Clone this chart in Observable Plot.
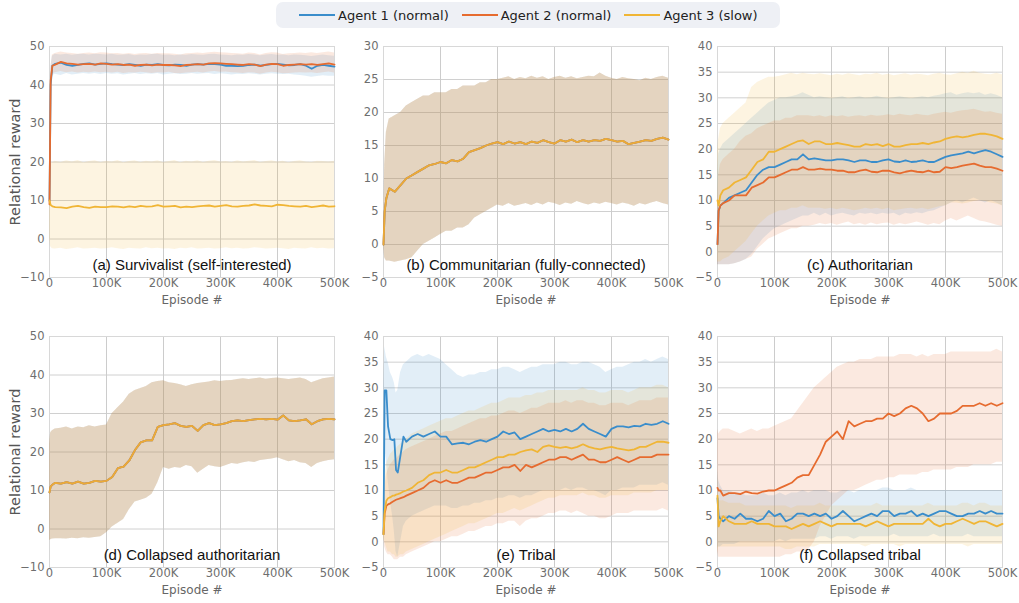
<!DOCTYPE html>
<html><head><meta charset="utf-8">
<script src="https://cdn.jsdelivr.net/npm/d3@7"></script>
<script src="https://cdn.jsdelivr.net/npm/@observablehq/plot@0.6"></script>
<style>
body{margin:0;background:#fff;}
#root{position:relative;width:1019px;height:603px;overflow:hidden;font-family:"DejaVu Sans",Verdana,sans-serif;}
.panel{position:absolute;}
.panel svg{overflow:visible;}
#legend{position:absolute;left:276px;top:2px;width:504px;height:26px;background:#eef0f5;border-radius:7px;display:flex;align-items:center;box-sizing:border-box;padding-left:23px;font-size:13px;color:#222;}
.item{display:flex;align-items:center;margin-right:13px;white-space:nowrap;}
.sw{width:36px;height:2px;margin-right:3px;}
</style></head>
<body><div id="root"><div id="legend"></div></div>
<script>
// ---------- categories / labels ----------
const AGENTS = ["Agent 1 (normal)", "Agent 2 (normal)", "Agent 3 (slow)"];
const COLORS = ["#3a8dcb", "#e66b2f", "#f0b535"];
const X_TICKS = [0, 100, 200, 300, 400, 500];
const TITLES = ["(a) Survivalist (self-interested)", "(b) Communitarian (fully-connected)", "(c) Authoritarian",
  "(d) Collapsed authoritarian", "(e) Tribal", "(f) Collapsed tribal"];

// episode grid (thousands)
const X = [0,2,5,10,20,30,40,50,60,70,
  80,90,100,110,120,130,140,150,160,170,
  180,190,200,210,220,230,240,250,260,270,
  280,290,300,310,320,330,340,350,360,370,
  380,390,400,410,420,430,440,450,460,470,
  480,490,500];
const XE = [0,2,5,8,12,16,19,22,25,30,
  35,40,50,60,70,80,90,100,110,120,
  130,140,150,160,170,180,190,200,210,220,
  230,240,250,260,270,280,290,300,310,320,
  330,340,350,360,370,380,390,400,410,420,
  430,440,450,460,470,480,490,500];

// ---------- (a) Survivalist ----------
const A1 = [10,40,45,45.5,45.8,45.2,45.0,45.2,45.5,45.6,
  45.3,45.5,45.6,45.4,45.3,45.2,45.4,45.2,45.0,45.3,
  45.2,45.4,45.2,45.1,45.3,45.2,45.0,45.3,45.4,45.3,
  45.5,45.4,45.3,45.0,45.0,44.9,45.0,45.2,45.3,45.0,
  45.2,45.4,45.5,45.3,45.1,45.2,45.4,45.0,44.2,45.0,
  45.2,45.0,44.8];
const A2 = [9,41,45,45.3,46.0,45.6,45.5,45.3,45.4,45.5,
  45.3,45.6,45.5,45.3,45.4,45.2,45.3,45.0,45.2,45.3,
  45.1,45.3,45.2,45.2,45.1,44.9,45.2,45.3,45.4,45.3,
  45.6,45.7,45.6,45.5,45.4,45.3,45.2,45.4,45.3,44.9,
  45.3,45.5,45.4,45.0,45.2,45.3,45.4,45.3,45.4,45.2,
  45.4,45.6,45.3];
const A3 = [10,8.8,8.5,8.3,8.2,8.0,8.4,8.6,8.3,8.1,
  8.4,8.3,8.3,8.5,8.4,8.2,8.5,8.3,8.6,8.4,
  8.5,8.8,8.4,8.5,8.6,8.2,8.4,8.3,8.5,8.6,
  8.7,8.4,8.6,8.8,8.5,8.4,8.6,8.7,9.0,8.7,
  8.6,8.5,8.9,8.8,8.6,8.5,8.4,8.6,8.3,8.5,
  8.7,8.4,8.5];
const A1_LO = [8,38,42.5,42.8,42.5,43.0,42.6,42.8,43.0,42.8,
  43.0,42.7,43.0,42.8,42.9,42.6,42.8,43.0,42.7,42.9,
  42.8,43.0,42.6,42.8,42.9,42.7,42.8,43.0,42.8,42.9,
  43.0,42.7,42.9,42.8,42.6,42.8,42.7,42.9,42.8,42.6,
  42.8,42.9,42.8,42.7,42.8,42.6,42.5,42.3,42.0,42.2,
  42.4,42.3,42.3];
const A1_HI = [12,44,47.5,48.0,47.8,48.0,47.7,47.9,48.0,47.8,
  48.0,47.9,47.8,48.0,47.7,47.8,47.9,47.6,47.8,47.7,
  47.9,48.0,47.7,47.8,47.6,47.8,47.7,47.9,47.8,47.7,
  47.9,48.0,47.8,47.7,47.6,47.8,47.7,47.9,47.8,47.6,
  47.8,47.9,47.7,47.8,47.6,47.8,47.7,47.6,47.4,47.6,
  47.8,47.6,47.5];
const A2_LO = [7,39,43.0,43.2,43.5,43.2,43.4,43.1,43.3,43.2,
  43.4,43.2,43.3,43.1,43.3,43.0,43.2,43.1,43.3,43.2,
  43.0,43.2,43.1,43.3,43.0,42.9,43.1,43.2,43.3,43.1,
  43.4,43.5,43.3,43.4,43.2,43.1,43.0,43.2,43.1,42.8,
  43.1,43.3,43.2,42.9,43.0,43.1,43.2,43.1,43.2,43.0,
  43.2,43.4,43.1];
const A2_HI = [11,44,47.8,48.2,48.6,48.3,48.2,48.0,48.2,48.3,
  48.1,48.4,48.3,48.1,48.2,48.0,48.2,47.9,48.1,48.2,
  48.0,48.2,48.1,48.1,48.0,47.8,48.1,48.2,48.3,48.2,
  48.4,48.5,48.4,48.3,48.2,48.1,48.0,48.3,48.2,47.8,
  48.2,48.4,48.3,47.9,48.1,48.2,48.3,48.2,48.4,48.2,
  48.4,48.6,48.3];
const A3_LO = [0,-2,-2.5,-2.6,-2.4,-2.7,-2.5,-2.3,-2.6,-2.5,
  -2.4,-2.6,-2.5,-2.3,-2.5,-2.7,-2.4,-2.5,-2.6,-2.3,
  -2.5,-2.4,-2.6,-2.5,-2.7,-2.4,-2.5,-2.3,-2.6,-2.5,
  -2.4,-2.6,-2.5,-2.3,-2.5,-2.4,-2.6,-2.5,-2.3,-2.4,
  -2.6,-2.5,-2.4,-2.5,-2.7,-2.4,-2.5,-2.6,-2.3,-2.5,
  -2.4,-2.6,-2.5];
const A3_HI = [20,19.5,19.8,20.2,19.9,20.3,20.0,20.4,19.8,20.1,
  20.3,19.9,20.2,20.0,20.4,19.8,20.1,20.3,19.9,20.2,
  20.0,20.3,19.9,20.1,20.4,19.8,20.2,20.0,20.3,19.9,
  20.2,20.4,20.0,20.1,19.9,20.3,20.0,20.2,20.4,19.9,
  20.1,20.3,20.0,20.2,19.8,20.1,20.3,20.0,19.9,20.2,
  20.1,20.0,20.2];

// ---------- (b) Communitarian (all agents overlap) ----------
const B_MEAN = [0,5,7,8.5,8.0,9.0,10.0,10.5,11.0,11.5,
  12.0,12.2,12.5,12.3,12.8,12.6,13.0,14.0,14.3,14.6,
  15.0,15.3,15.5,15.2,15.6,15.3,15.5,15.2,15.6,15.4,
  15.8,15.5,15.3,15.8,15.6,15.9,15.5,15.8,15.6,15.8,
  15.7,16.0,15.8,15.6,15.7,15.2,15.4,15.6,15.8,15.7,
  16.0,16.2,15.9];
const B_LO = [0,-2,-2.5,-2.5,-2.7,-2.5,-2.3,-2.0,-1.0,0.0,
  0.5,1.0,1.5,2.0,2.0,2.5,2.5,3.0,4.0,4.5,
  5.0,5.5,6.0,5.8,6.2,5.8,6.0,6.2,5.9,6.3,
  6.0,6.4,6.2,5.9,6.3,6.1,6.5,6.2,6.0,6.3,
  6.1,6.4,6.2,6.0,6.3,6.1,5.8,6.2,6.0,6.3,
  6.5,6.2,6.0];
const B_HI = [0,12,17,19,19.5,20,21,21.5,22,22.5,
  22.5,23,23,23,23.5,23.5,24,24,24,24.5,
  24.5,25,25,25.2,25.4,25.0,25.3,25.1,25.5,25.2,
  25.4,25.0,25.3,25.5,25.2,25.4,25.1,25.3,25.5,25.4,
  26.0,25.5,25.2,25.0,25.3,25.1,25.0,24.8,25.2,25.0,
  25.3,25.5,25.2];

// ---------- (c) Authoritarian ----------
const C1 = [1.5,8,9,9.5,10.5,11,11.5,12,13.5,15,
  16,16.5,16.5,17,17.5,18,18,19,18,18.2,
  18,17.8,17.8,18,18,17.8,17.5,17.8,17.8,17.5,
  17.5,17.8,18,17.6,17.5,17.8,17.5,17.6,17.8,17.5,
  17.5,18,18.5,18.8,19,19.2,19.5,19.2,19.5,19.8,
  19.5,19,18.5];
const C2 = [1.5,8,9,9.5,10,11,11,11,12.5,13,
  13.5,14.5,14.5,15,15.5,16,16,16.5,16,16,
  16.2,16,16,15.8,15.8,15.5,15.5,15.8,16,15.6,
  15.5,15.8,15.8,15.5,15.3,15.6,15.8,15.6,15.5,15.8,
  15.5,15.6,16.5,16.3,16.5,16.8,17,17.2,16.8,16.5,
  16.5,16.2,15.8];
const C3 = [10,9,11,12,12.5,13.5,14,14.5,16,17.5,
  18,19.5,19.5,20,20.5,21,21.5,21.7,21,21.5,
  21.5,21,21,21.2,21,20.8,20.5,20.5,21,20.8,
  21,20.6,21,20.5,20.5,20.8,21,21,21.2,21,
  21.3,21.5,22,22.3,22.5,22.3,22.5,22.8,23,23,
  22.8,22.5,22];
const C1_LO = [-2.5,-2.5,-2.5,-2.5,-2.5,-2.3,-2,-1.5,-0.5,1,
  2.5,3.5,4.5,5,5.5,6,6.5,7,7,7.5,
  7,7.5,7,7.3,7.5,7.2,7,7.5,7.3,7.5,
  7.2,7.5,7.3,7.5,7,7.5,7.3,7.6,7.4,7.8,
  8,8.5,9,9.5,10,9.5,10,10.5,10,9.5,
  10,9.5,9];
const C1_HI = [15,19,20,21,22,23,24,25,26,27,
  28,29,29.5,30,30,30.2,30.5,31,30.5,30,
  30.2,30,29.8,30,30.2,29.8,30,30.2,29.9,30,
  30.3,30,29.8,30,30.2,30,29.8,30,30.2,30,
  30.3,30.5,30.8,31,30.5,30.8,31,30.8,31,30.5,
  30.8,30.5,30];
const C2_LO = [-2.5,-2.5,-2.5,-2.5,-2.5,-2.3,-2,-1.5,-1,0.5,
  1.5,2.5,3,3.5,4,4.5,4.5,5,5,5.2,
  5.5,5.3,5.5,5.2,5.5,5.8,5.3,5.5,5.2,5.6,
  5.3,5.5,5.6,5.2,5.5,5.3,5.5,5.8,5.5,5.2,
  5.5,5.3,6,6.5,6,6.5,7,6.5,6,5.8,
  5.5,5.2,5];
const C2_HI = [10,15,17,18,19,20,21.5,22.5,23,24,
  24.5,25,25.5,25.5,26,26,26.5,26.5,26.5,26.3,
  26.5,26.2,26.5,26.3,26.5,26.2,26.4,26.5,26.3,26.6,
  26.4,26.5,26.7,26.5,26.8,26.6,26.5,26.8,26.6,26.5,
  26.8,27,27.2,27,27.3,27.5,27.6,27.8,27.5,27.2,
  27.3,27,26.8];
const C3_LO = [-2,-2,-2,-1.5,-1,0,1,2,3.5,5,
  6,7,7.5,8,8,8.5,8.5,9,8.5,8.5,
  8.5,8.3,8.5,8.2,8.5,8.3,8,8.2,8.5,8.3,
  8.5,8.2,8.5,8,8.2,8.4,8.5,8.3,8.5,8.2,
  8.5,8.8,9,9.5,9.5,9.3,9.5,9.8,10,9.8,
  9.5,9.3,9];
const C3_HI = [20,22,24,25,26,27,28,29,32,33,
  33.5,34,34,34.2,34.5,34.8,34.5,34.8,34.6,34.5,
  34.7,34.5,34.3,34.6,34.4,34.7,34.5,34.3,34.6,34.5,
  34.8,34.4,34.6,34.3,34.5,34.7,34.4,34.6,34.5,34.3,
  34.6,34.8,34.5,34.4,34.7,35,34.8,35.2,34.8,34.6,
  34.5,34.8,34.5];

// ---------- (d) Collapsed authoritarian (all agents overlap) ----------
const D_MEAN = [9.5,11,11.5,12,11.8,12.2,11.8,12.3,11.8,12,
  12.5,12.3,12.5,13.5,15.8,16.2,17.8,20.5,22.5,23,
  23,26.5,27,27.2,27.5,26.8,26.5,26.8,25.5,27,
  27.5,27,27.2,27.5,28,28.2,28,28.3,28.5,28.6,
  28.5,28.6,28.4,29.5,28.2,28,28.2,28.5,27.2,28,
  28.5,28.6,28.5];
const D_LO = [-3,-2.8,-2.6,-2.5,-2.5,-2.6,-2.4,-2.5,-2.3,-2.4,
  -2.2,-2,-1,0.5,1.5,2.5,5,7,7.5,8,
  9,12,16,15.5,16,15.8,16.5,16.2,14.5,15.5,
  16.5,16.2,16,16.5,17,16.8,17.2,17.5,17.3,17.8,
  18,18.2,18.5,18,17.5,17.8,17.2,17,16,17,
  17.5,17.8,18];
const D_HI = [22,25,25.5,26,26.2,26.5,26,26.5,26.3,26.8,
  26.5,26.8,27,30,31.5,33,35,36,36.5,37,
  38,38.3,38.5,38,37.8,37.5,37,37.5,37.8,38,
  38.2,38.5,38.3,38.5,38.6,38.8,39,38.8,39,39.2,
  38.9,39.1,39.2,39,38.8,39,39.2,38.8,38,38.5,
  39,39.2,39.5];

// ---------- (e) Tribal (grid XE) ----------
const E1 = [1.5,29.5,29.5,22.5,20,19.8,20,14,13.5,17,
  20.5,19.5,20.5,21,20.5,21,21.5,20.5,20.5,19,
  19.2,19.3,19,19.5,19.8,19.5,20,20.5,21.5,21,
  21.3,20,20.5,21,21.5,22,21.5,21.8,21.5,22,
  21.5,22,23,22,21.5,21,20.5,22,22.5,22.5,
  22.3,22.6,22.5,23,22.8,23,23.5,23];
const E2 = [1.5,5.5,7,7.3,7.5,7.8,8,8.2,8.3,8.5,
  8.7,9,9.5,10,10.5,11.5,12,11.5,12,11.5,
  11.5,12,12.5,12.5,13,13.5,13.5,14,14.5,14.5,
  15,13.8,15,14.5,15,15.5,16,16,16.5,16.5,
  16,16.5,17,16,16,15.5,15.5,16,16.5,16,
  15.5,16,16.5,16.5,16.5,17,17,17];
const E3 = [1.5,6,8,8.5,8.7,9,9,9.2,9.3,9.5,
  9.8,10,10.5,11.5,12,13,13.5,13.5,14,13.5,
  13.5,14,14.5,14.5,15,15.5,16,16.5,16.5,17,
  17,17.5,17.8,18,17.5,18.5,18.8,18.5,18.3,18.5,
  18.2,18.5,19,18.5,18.2,18,18.3,18.5,18.2,18,
  17.8,18,18.5,18.5,19,19.5,19.5,19.3];
const E1_LO = [-1,18,16,12,8,5,2,-2,-3,0,
  3,4,5,5.5,6,6.5,7,7,7,6.5,
  6.5,7,7,7.5,7.5,8,8,8.5,8.5,9,
  9,8.5,9,9,9.5,10,10,10,10,10.5,
  10,10.5,10.5,10,10,9.5,9,10,10,10.5,
  10.5,10.5,11,11,11,11,11.5,11];
const E1_HI = [30,38,36,35,33,32,31,29,29.5,33,
  34.5,35,36,36.5,36,36.5,36,35.5,34.5,33.5,
  32.5,32,32.5,32.5,33,33,33.5,33.5,34,34,
  33.5,33,33.5,34,34,34.5,34.5,34.5,35,35,
  34.5,34.5,35,35,34.5,34,33,33.5,34,34,
  34.5,35,35,35.5,35,35.5,36,35.5];
const E2_LO = [1,-1,-2,-2.5,-2.5,-3,-3.5,-3.5,-3.5,-3,
  -3,-2.5,-2,-1.5,-1,-0.5,0,0,0.5,1,
  1,1.5,2,2,2.5,3,3,3.5,3.5,4,
  4,3,4,4.5,4.5,5,5.5,5.5,6,6,
  5.5,6,5.5,5,5,4.5,4.5,5,5.5,5.5,
  5.5,6,6,6,6,6,6.5,6];
const E2_HI = [2,10,13,14,15,15.5,16,16,16.5,17,
  17.5,18,18.5,19,19.5,20,20.5,21,21.5,21.5,
  22,22.5,23,23.5,24,24,24.5,24.5,25,25.5,
  25.5,25,25.5,26,26,26.5,27,27,27,27.5,
  27,27.5,27.5,27,27,26.5,26.5,27,27,27,
  26.5,27,27.5,27.5,27.5,28,28,28];
const E3_LO = [1,0,-1,-2,-2,-2.5,-2.5,-3,-3,-2.5,
  -2.5,-2,-1.5,-1,-0.5,0,0.5,1,1.5,2,
  2.5,3,3.5,3.5,4,4.5,5,5.5,5.5,6,
  6.5,6,6.5,7,7.5,8,8.5,8.5,9,9,
  9,9,9.5,9,9,8.5,8.5,9,9,9,
  9,9.5,9.5,9.5,9.5,10,10,10];
const E3_HI = [2,12,15,16,17,17.5,18,18,18.5,19,
  19.5,20,21,21.5,22,22.5,23,23.5,24,24,
  24.5,25,25.5,25.5,26,26.5,27,27,27.5,28,
  28,28,28.5,28.5,29,29,29.5,29.5,29.5,29.5,
  29.5,29.5,30,29.5,29.5,29,29,29.5,29.5,29.5,
  29,29.5,30,30,30,30.5,30.5,30];

// ---------- (f) Collapsed tribal ----------
const F1 = [8.5,5,4.5,4,5,4.5,5.5,4.5,4.5,4,
  4.5,6,5,5.5,4,4.5,5.5,5.5,5,5.5,
  5,5.5,4.5,5,6,5,4,4.5,5,5.5,
  5,6,6,5,5.5,5.5,6,5,5.5,5,
  5.5,6,6,5.5,5,5,5.5,5.5,6,5.5,
  6,5.5,5.5];
const F2 = [10.5,10,10,9,9.5,9.5,9.3,9.8,9.5,9.4,
  9.8,10,10,10.5,11,11.5,12.5,13,13,15,
  17,19.5,20.5,21.5,20,23.5,22.5,23,23.5,23.5,
  24,24,25,24.5,25,26,26.5,26,25,23.5,
  24,25,25,25,25.5,26.5,26.5,26.5,27,26.5,
  27,26.5,27];
const F3 = [9,3,4,5,4,3.5,3.5,3.5,4,3.5,
  3.5,3.5,3,3,3,2.5,3,3.5,3,3.5,
  4,3.5,3,3.5,3.5,3.5,3.5,3.5,3,3.5,
  4,3.5,3,3.5,3.5,3.5,3.5,3.5,3.5,4.5,
  3.5,3,3.5,3.5,4,4.5,4,3.5,4,4,
  3.5,3,3.5];
const F1_LO = [-1,-1,-1,-0.5,-0.5,-0.5,0,0,0,0,
  0,0,0,0.5,0,0.5,0.5,0.5,0.5,0.5,
  1,1,0.5,1,1,1,0.5,1,1,1,
  1,1,1,1.5,1,1,1,1,1,1,
  1.5,1,1,1,1,1,1.5,1,1,1,
  1,1,1];
const F1_HI = [14,12,11,10,10,9.5,9.5,9,9,9,
  9.5,9,9,9.5,9,9.5,9.5,10,9.5,10,
  10,10,9.5,9.5,10,10,9.5,10,10,10,
  10,10.5,10.5,10,10,10,10.5,10,10,10,
  10,10,10,10,10,10,10,10,10,10,
  10,10,10];
const F2_LO = [-2,-3,-3,-3,-3,-3,-3,-3,-3,-3,
  -3,-3,-3,-3,-2.5,-2.5,-2,-2,-1.5,0,
  3,5,7,8,9,10,10,10.5,11,11.5,
  12,12,12.5,12.5,13,13,13,13,13.5,13.5,
  14,14,14,14,14.5,14.5,14.5,15,15,15,
  15,15.5,15.5];
const F2_HI = [22,21,21.5,22,22,21.5,21,21.5,22,21.5,
  22,22,22.5,23,23.5,24,25.5,27,28.5,30,
  31,32,33,34,34.5,35,35,35.5,35.5,35.5,
  36,36,36,36,36.5,36.5,36.5,36,36.5,36,
  36.5,36.5,36.5,37,37,37,37,37,37,37,
  37,37.5,37];
const F3_LO = [-2,-1,-1,-1,-1,-1,-1,-1,-1,-1,
  -1,-1,-1,-1,-1.5,-1.5,-1,-1,-1,-1,
  -0.5,-0.5,-0.5,-0.5,-0.5,-0.5,-0.5,-0.5,-1,-0.5,
  -0.5,-0.5,-0.5,-0.5,-1,-0.5,-0.5,-0.5,-0.5,-0.5,
  -0.5,-0.5,-0.5,-0.5,-0.5,-0.5,-1,-0.5,-0.5,-0.5,
  -0.5,-0.5,-0.5];
const F3_HI = [14,8,8,8,7.5,7.5,7.5,7,7,7,
  7,7,7,7,7,6.5,7,7,7,7,
  7.5,7,7,7,7,7,7,7,7,7,
  7.5,7,7,7,7,7,7,7,7,7.5,
  7,7,7,7,7,7.5,7.5,7,7.5,7.5,
  7,7,7];

// ---------- panels ----------
const PANELS = [
  {left:0, top:36, x:X, yDomain:[-10,50], yTicks:[-10,0,10,20,30,40,50], ylabel:true, title:TITLES[0], op:1,
   bands:[[0,A1_LO,A1_HI],[1,A2_LO,A2_HI],[2,A3_LO,A3_HI]], lines:[[0,A1],[1,A2],[2,A3]]},
  {left:334, top:36, x:X, yDomain:[-5,30], yTicks:[-5,0,5,10,15,20,25,30], ylabel:false, title:TITLES[1], op:0.85,
   bands:[[0,B_LO,B_HI],[1,B_LO,B_HI],[2,B_LO,B_HI]], lines:[[0,B_MEAN],[1,B_MEAN],[2,B_MEAN]]},
  {left:668, top:36, x:X, yDomain:[-5,40], yTicks:[-5,0,5,10,15,20,25,30,35,40], ylabel:false, title:TITLES[2], op:1,
   bands:[[0,C1_LO,C1_HI],[1,C2_LO,C2_HI],[2,C3_LO,C3_HI]], lines:[[0,C1],[1,C2],[2,C3]]},
  {left:0, top:326, x:X, yDomain:[-10,50], yTicks:[-10,0,10,20,30,40,50], ylabel:true, title:TITLES[3], op:0.85,
   bands:[[0,D_LO,D_HI],[1,D_LO,D_HI],[2,D_LO,D_HI]], lines:[[0,D_MEAN],[1,D_MEAN],[2,D_MEAN]]},
  {left:334, top:326, x:XE, yDomain:[-5,40], yTicks:[-5,0,5,10,15,20,25,30,35,40], ylabel:false, title:TITLES[4], op:1,
   bands:[[0,E1_LO,E1_HI],[1,E2_LO,E2_HI],[2,E3_LO,E3_HI]], lines:[[0,E1],[1,E2],[2,E3]]},
  {left:668, top:326, x:X, yDomain:[-5,40], yTicks:[-5,0,5,10,15,20,25,30,35,40], ylabel:false, title:TITLES[5], op:1,
   bands:[[0,F1_LO,F1_HI],[1,F2_LO,F2_HI],[2,F3_LO,F3_HI]], lines:[[0,F1],[1,F2],[2,F3]]}
];

const root = document.getElementById("root");

// legend
const legend = document.getElementById("legend");
AGENTS.forEach((name, i) => {
  const it = document.createElement("div"); it.className = "item";
  const sw = document.createElement("div"); sw.className = "sw"; sw.style.background = COLORS[i];
  const tx = document.createElement("span"); tx.textContent = name;
  it.appendChild(sw); it.appendChild(tx); legend.appendChild(it);
});

for (const p of PANELS) {
  const rows = p.x.map((v, i) => ({x: v, i}));
  const marks = [
    Plot.gridY(p.yTicks, {stroke: "#d0d0d0", strokeOpacity: 1}),
    Plot.gridX(X_TICKS, {stroke: "#cccccc", strokeOpacity: 1}),
    Plot.frame({stroke: "#d8d8d8"})
  ];
  for (const [a, lo, hi] of p.bands) {
    marks.push(Plot.areaY(rows, {x: "x", y1: d => lo[d.i], y2: d => hi[d.i], fill: COLORS[a], fillOpacity: 0.15}));
  }
  for (const [a, ys] of p.lines) {
    marks.push(Plot.lineY(rows, {x: "x", y: d => ys[d.i], stroke: COLORS[a], strokeWidth: 1.8, strokeOpacity: p.op}));
  }
  marks.push(
    Plot.axisX(X_TICKS, {tickSize: 0, tickPadding: 1, label: null, tickFormat: d => d === 0 ? "0" : d + "K", fill: "#6e6e6e", fontSize: 11.5}),
    Plot.axisY(p.yTicks, {tickSize: 0, tickPadding: 5, label: null, fill: "#6e6e6e", fontSize: 11.5}),
    Plot.text([p.title], {text: d => d, frameAnchor: "bottom", lineAnchor: "middle", dy: -12, fontSize: 15,
      fontFamily: "Liberation Sans, Arial, sans-serif", fill: "#111"}),
    Plot.text(["Episode #"], {text: d => d, frameAnchor: "bottom", lineAnchor: "middle", dy: 23, fontSize: 12, fill: "#666"})
  );
  if (p.ylabel) {
    marks.push(Plot.text(["Relational reward"], {text: d => d, frameAnchor: "left", dx: -34, rotate: -90,
      textAnchor: "middle", lineAnchor: "middle", fontSize: 14.5, fill: "#555"}));
  }
  const svg = Plot.plot({
    width: 344, height: 277,
    marginLeft: 49, marginRight: 10, marginTop: 10, marginBottom: 36,
    x: {domain: [0, 500]},
    y: {domain: p.yDomain},
    style: {fontFamily: "DejaVu Sans, Verdana, sans-serif", fontSize: "12px", background: "transparent", overflow: "visible"},
    marks
  });
  const div = document.createElement("div");
  div.className = "panel";
  div.style.left = p.left + "px";
  div.style.top = p.top + "px";
  div.appendChild(svg);
  root.appendChild(div);
}
</script></body></html>
